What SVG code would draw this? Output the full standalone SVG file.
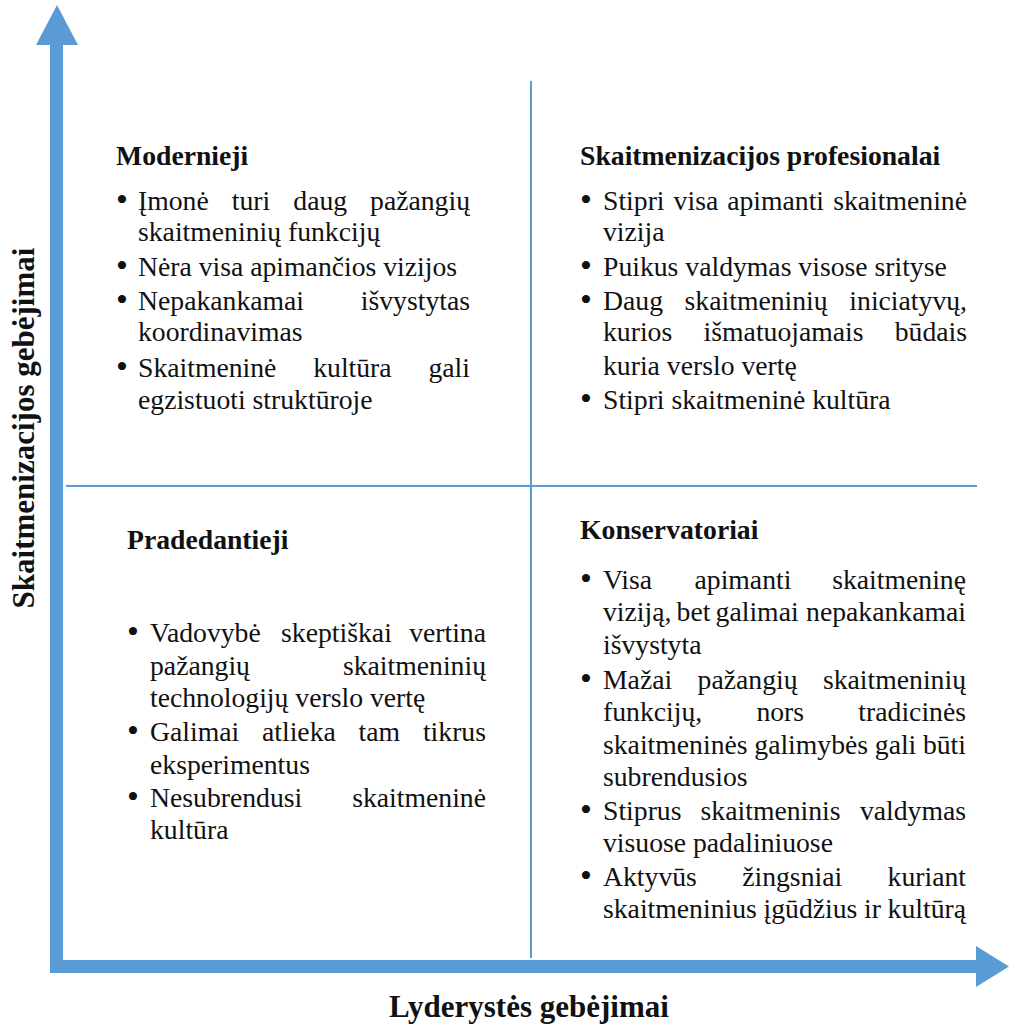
<svg xmlns="http://www.w3.org/2000/svg" width="1009" height="1026" viewBox="0 0 1009 1026">
  <style>
    text { font-family: "Liberation Serif", "Times New Roman", serif; fill: #111; }
    .h { font-size: 27.7px; font-weight: bold; }
    .t { font-size: 27.7px; font-weight: normal; }
    .b { font-size: 34px; text-anchor: middle; }
    .e { text-anchor: end; }
    .axis { fill: #5b9bd5; }
    .grid { stroke: #5b9bd5; stroke-width: 2; fill: none; }
    .lbl { font-size: 31px; font-weight: bold; text-anchor: middle; }
  </style>
  <rect width="1009" height="1026" fill="#fff"/>

  <!-- axes and quadrant dividers -->
  <g id="connectors">
    <rect class="axis" x="50" y="44" width="13" height="929"/>
    <polygon class="axis" points="36,45 57,5 78,45"/>
    <rect class="axis" x="50" y="960" width="927" height="13"/>
    <polygon class="axis" points="976,946 1009,966.5 976,987"/>
    <line class="grid" x1="531" y1="81" x2="531" y2="958"/>
    <line class="grid" x1="66" y1="486" x2="977" y2="486"/>
  </g>

  <!-- axis titles -->
  <g id="axis-y">
    <text class="lbl" transform="translate(34,428) rotate(-90)">Skaitmenizacijos gebėjimai</text>
  </g>
  <g id="axis-x">
    <text class="lbl" x="529" y="1017">Lyderystės gebėjimai</text>
  </g>

  <!-- top-left quadrant -->
  <g id="q-modernieji">
    <text class="h" x="116" y="165">Modernieji</text>
    <text class="b" x="122" y="211">•</text>
    <text class="t" y="210"><tspan x="138">Įmonė</tspan><tspan x="231.8">turi</tspan><tspan x="293.3">daug</tspan><tspan x="470" class="e">pažangių</tspan></text>
    <text class="t" x="138" y="241">skaitmeninių funkcijų</text>
    <text class="b" x="122" y="277">•</text>
    <text class="t" x="138" y="276">Nėra visa apimančios vizijos</text>
    <text class="b" x="122" y="311">•</text>
    <text class="t" y="310"><tspan x="138">Nepakankamai</tspan><tspan x="470" class="e">išvystytas</tspan></text>
    <text class="t" x="138" y="341">koordinavimas</text>
    <text class="b" x="122" y="378">•</text>
    <text class="t" y="377"><tspan x="138">Skaitmeninė</tspan><tspan x="313.2">kultūra</tspan><tspan x="470" class="e">gali</tspan></text>
    <text class="t" x="138" y="409">egzistuoti struktūroje</text>
  </g>

  <!-- top-right quadrant -->
  <g id="q-profesionalai">
    <text class="h" x="580" y="165">Skaitmenizacijos profesionalai</text>
    <text class="b" x="586" y="211">•</text>
    <text class="t" y="210"><tspan x="603">Stipri</tspan><tspan x="673.6">visa</tspan><tspan x="727.2">apimanti</tspan><tspan x="967" class="e">skaitmeninė</tspan></text>
    <text class="t" x="603" y="241">vizija</text>
    <text class="b" x="586" y="277">•</text>
    <text class="t" x="603" y="276">Puikus valdymas visose srityse</text>
    <text class="b" x="586" y="311">•</text>
    <text class="t" y="310"><tspan x="603">Daug</tspan><tspan x="684.6">skaitmeninių</tspan><tspan x="967" class="e">iniciatyvų,</tspan></text>
    <text class="t" y="341"><tspan x="603">kurios</tspan><tspan x="703.6">išmatuojamais</tspan><tspan x="967" class="e">būdais</tspan></text>
    <text class="t" x="603" y="375">kuria verslo vertę</text>
    <text class="b" x="586" y="410">•</text>
    <text class="t" x="603" y="409">Stipri skaitmeninė kultūra</text>
  </g>

  <!-- bottom-left quadrant -->
  <g id="q-pradedantieji">
    <text class="h" x="127" y="549">Pradedantieji</text>
    <text class="b" x="133" y="643">•</text>
    <text class="t" y="642"><tspan x="150">Vadovybė</tspan><tspan x="281.1">skeptiškai</tspan><tspan x="486" class="e">vertina</tspan></text>
    <text class="t" y="675"><tspan x="150">pažangių</tspan><tspan x="486" class="e">skaitmeninių</tspan></text>
    <text class="t" x="150" y="707">technologijų verslo vertę</text>
    <text class="b" x="133" y="742">•</text>
    <text class="t" y="741"><tspan x="150">Galimai</tspan><tspan x="262">atlieka</tspan><tspan x="358.6">tam</tspan><tspan x="486" class="e">tikrus</tspan></text>
    <text class="t" x="150" y="774">eksperimentus</text>
    <text class="b" x="133" y="808">•</text>
    <text class="t" y="807"><tspan x="150">Nesubrendusi</tspan><tspan x="486" class="e">skaitmeninė</tspan></text>
    <text class="t" x="150" y="839">kultūra</text>
  </g>

  <!-- bottom-right quadrant -->
  <g id="q-konservatoriai">
    <text class="h" x="580" y="539">Konservatoriai</text>
    <text class="b" x="586" y="590">•</text>
    <text class="t" y="589"><tspan x="603">Visa</tspan><tspan x="694.5">apimanti</tspan><tspan x="966" class="e">skaitmeninę</tspan></text>
    <text class="t" y="621"><tspan x="603">viziją,</tspan><tspan x="676.6">bet</tspan><tspan x="715.6">galimai</tspan><tspan x="966" class="e">nepakankamai</tspan></text>
    <text class="t" x="603" y="654">išvystyta</text>
    <text class="b" x="586" y="690">•</text>
    <text class="t" y="689"><tspan x="603">Mažai</tspan><tspan x="697.6">pažangių</tspan><tspan x="966" class="e">skaitmeninių</tspan></text>
    <text class="t" y="721"><tspan x="603">funkcijų,</tspan><tspan x="756.4">nors</tspan><tspan x="966" class="e">tradicinės</tspan></text>
    <text class="t" y="754"><tspan x="603">skaitmeninės</tspan><tspan x="754.3">galimybės</tspan><tspan x="874.8">gali</tspan><tspan x="966" class="e">būti</tspan></text>
    <text class="t" x="603" y="786">subrendusios</text>
    <text class="b" x="586" y="821">•</text>
    <text class="t" y="820"><tspan x="603">Stiprus</tspan><tspan x="700.6">skaitmeninis</tspan><tspan x="966" class="e">valdymas</tspan></text>
    <text class="t" x="603" y="852">visuose padaliniuose</text>
    <text class="b" x="586" y="887">•</text>
    <text class="t" y="886"><tspan x="603">Aktyvūs</tspan><tspan x="742.2">žingsniai</tspan><tspan x="966" class="e">kuriant</tspan></text>
    <text class="t" y="918"><tspan x="603">skaitmeninius</tspan><tspan x="763.5">įgūdžius</tspan><tspan x="864">ir</tspan><tspan x="966" class="e">kultūrą</tspan></text>
  </g>
</svg>
